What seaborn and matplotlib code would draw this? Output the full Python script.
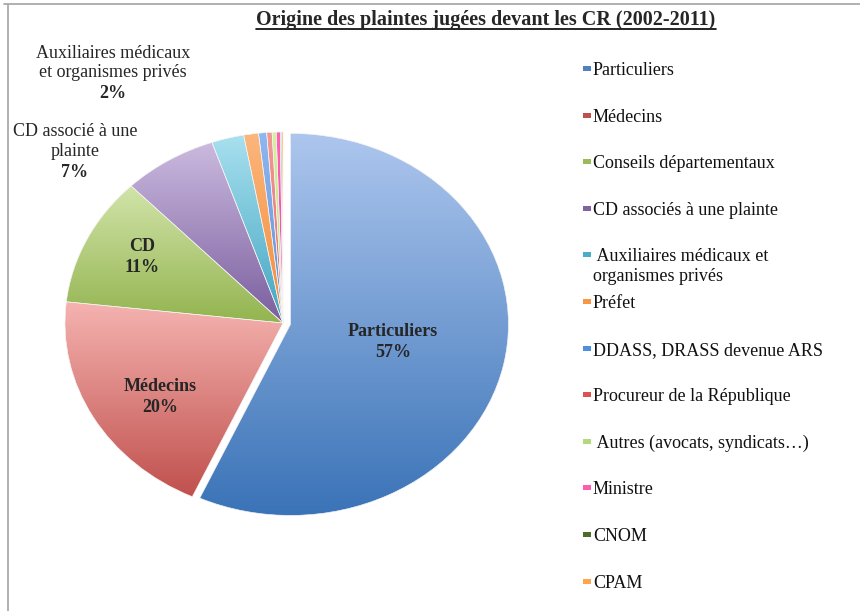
import matplotlib
matplotlib.use("Agg")
import matplotlib.pyplot as plt
from matplotlib.colors import LinearSegmentedColormap
from matplotlib.lines import Line2D
from matplotlib.patches import Rectangle
from matplotlib.transforms import IdentityTransform
import numpy as np
import seaborn as sns

# data (share of complaints, %)
categories = [
    "Particuliers",
    "Médecins",
    "Conseils départementaux",
    "CD associés à une plainte",
    " Auxiliaires médicaux et\norganismes privés",
    "Préfet",
    "DDASS, DRASS devenue ARS",
    "Procureur de la République",
    " Autres (avocats, syndicats…)",
    "Ministre",
    "CNOM",
    "CPAM",
]
shares = [57.0, 20.0, 11.0, 7.0, 2.4, 1.1, 0.6, 0.4, 0.3, 0.3, 0.1, 0.1]
slice_names = ["Particuliers", "Médecins", "CD", "CD associé à une\nplainte",
               "Auxiliaires médicaux\net organismes privés"]
title = "Origine des plaintes jugées devant les CR (2002-2011)"

# styling
top_colors = ["#adc6ee", "#f5b3b0", "#d2e4aa", "#cbbadf", "#a8e0ef", "#fbb67c",
              "#8fb7f0", "#f29a96", "#d6f09e", "#ff62b4", "#5f7f36", "#ffb468"]
bottom_colors = ["#3a73b7", "#c0504d", "#93b44f", "#7a5e9e", "#41a5c1", "#f58b38",
                 "#5f8fd6", "#e06a66", "#b5dc6a", "#f040a0", "#4f6b2a", "#ff9f40"]
legend_colors = ["#4f81bd", "#c0504d", "#9bbb59", "#8064a2", "#4bacc6", "#f79646",
                 "#4f8fe0", "#d9534f", "#b4d97a", "#ff5cb0", "#4f6b2a", "#ffa64d"]
explode = [0.035] + [0.0] * (len(shares) - 1)
# label anchors (centre of the percentage line), data coords
label_xy = [(0.505, -0.157), (-0.564, -0.445), (-0.647, 0.288),
            (-0.954, 0.79), (-0.78, 1.199)]
label_bold_name = [True, True, True, False, False]

W, H = 860, 611
CX, CY, RX, RY = 283, 323, 218, 191
LIM = 1.3


def draw_pie(ax):
    wedges, _ = ax.pie(shares, startangle=90, counterclock=False, explode=explode,
                       colors=bottom_colors,
                       wedgeprops=dict(edgecolor="#f4f4f4", linewidth=0.45))
    grad = np.linspace(0, 1, 256).reshape(-1, 1)
    for w, c_top, c_bot in zip(wedges, top_colors, bottom_colors):
        v = w.get_path().vertices
        cmap = LinearSegmentedColormap.from_list("g", [c_bot, c_top])
        im = ax.imshow(grad, extent=(v[:, 0].min(), v[:, 0].max(), v[:, 1].min(), v[:, 1].max()),
                       origin="lower", cmap=cmap, aspect="auto", zorder=2)
        im.set_clip_path(w)
        w.set_facecolor("none")
        w.set_zorder(3)
    ax.set_xlim(-LIM, LIM)
    ax.set_ylim(-LIM, LIM)
    ax.set_aspect("auto")
    ax.axis("off")

    for name, share, (x, y), bold in zip(slice_names, shares, label_xy, label_bold_name):
        ax.text(x, y, f"{round(share)}%", ha="center", va="center",
                fontsize=13, fontweight="bold", zorder=5)
        ax.annotate(name, xy=(x, y), xytext=(0, 9), textcoords="offset points",
                    ha="center", va="bottom", fontsize=13, linespacing=1.2,
                    fontweight="bold" if bold else "normal", zorder=5)


def draw_legend(fig):
    y0, dy = 72, 46.6
    for i, (name, col) in enumerate(zip(categories, legend_colors)):
        yc = y0 + i * dy
        fig.add_artist(Rectangle((583 / W, (H - yc + 1) / H), 8 / W, 5 / H,
                                 transform=fig.transFigure, facecolor=col,
                                 edgecolor="none"))
        fig.text(593 / W, (H - yc + 10) / H, name, ha="left", va="top",
                 fontsize=13, linespacing=1.2, color="#111111")


sns.set_theme(style="white")
plt.rcParams["font.family"] = ["Liberation Serif", "DejaVu Serif"]

fig = plt.figure(figsize=(W / 100, H / 100), dpi=100)
ax = fig.add_axes([(CX - LIM * RX) / W, (H - CY - LIM * RY) / H,
                   2 * LIM * RX / W, 2 * LIM * RY / H])
draw_pie(ax)
draw_legend(fig)

# frame around the chart
fig.add_artist(Line2D([4 / W, 1], [1 - 4 / H, 1 - 4 / H], transform=fig.transFigure,
                      color="#aaaaaa", lw=1.3))
fig.add_artist(Line2D([8 / W, 8 / W], [0, 1 - 4 / H], transform=fig.transFigure,
                      color="#aaaaaa", lw=1.3))

t = fig.text(486 / W, (H - 20) / H, title, ha="center", va="center",
             fontsize=14.5, fontweight="bold")
fig.canvas.draw()
bb = t.get_window_extent()
fig.add_artist(Line2D([bb.x0, bb.x1], [bb.y0 + 1.5, bb.y0 + 1.5],
                      transform=IdentityTransform(), color="black", lw=1.2))

fig.savefig("out.png", dpi=100)
